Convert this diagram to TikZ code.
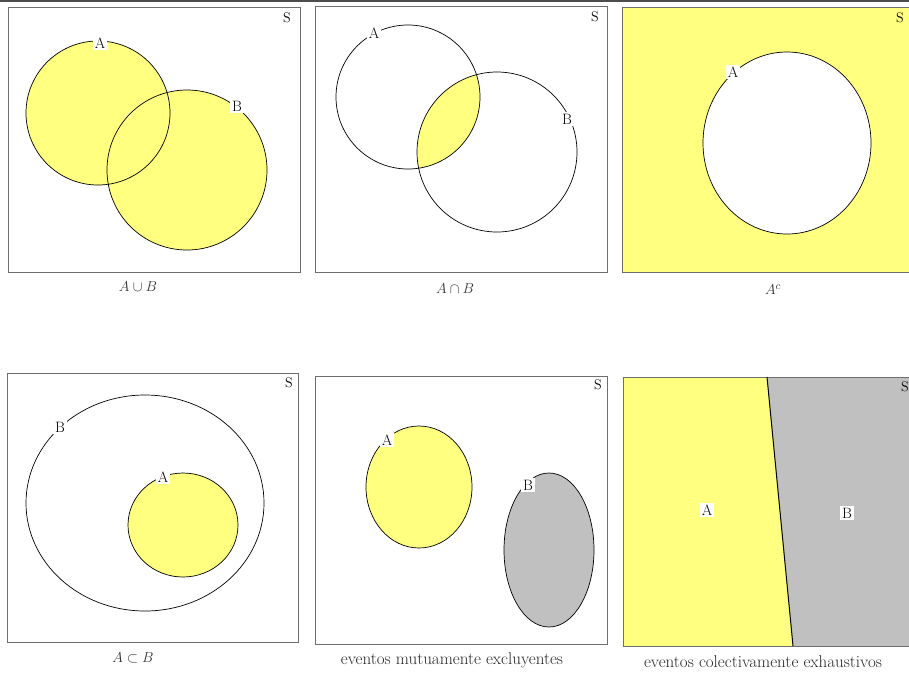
\documentclass[tikz,border=0pt]{standalone}
\usepackage{tikz}
\definecolor{setyel}{HTML}{FFFF80}
\definecolor{setgray}{HTML}{C0C0C0}
\definecolor{frame}{HTML}{6E6E6E}
\tikzset{
  space/.style={draw=frame,line width=1pt},
  venn/.style={draw=black,line width=0.7pt},
  setlbl/.style={fill=white,inner sep=2pt,font=\fontsize{15}{17}\selectfont},
  uni/.style={inner sep=0pt,font=\fontsize{14}{16}\selectfont},
  setcap/.style={inner sep=0pt,text=black!80,font=\fontsize{15}{18}\selectfont},
  wordcap/.style={inner sep=0pt,text=black!85,font=\fontsize{17}{20}\selectfont},
}
\begin{document}
\begin{tikzpicture}[x=1pt,y=-1pt]
  \useasboundingbox (0,0) rectangle (909,672);
  \clip (0,0) rectangle (909,672);
  \draw[black!70,line width=2pt] (0,1) -- (909,1);

  % union
  \draw[space] (8,7) rectangle (300,272);
  \fill[setyel] (98,113) circle[radius=72pt] (187,170) circle[radius=80pt];
  \draw[venn] (98,113) circle[radius=72pt] (187,170) circle[radius=80pt];
  \node[setlbl] (ua) at (100,43) {A};
  \node[setlbl] (ub) at (237,106) {B};
  \node[uni] (us) at (287,18) {S};
  \node[setcap] (uc) at (138,287) {$A\cup B$};

  % intersection
  \draw[space] (315,6) rectangle (607,272);
  \begin{scope}
    \clip (408,97) circle[radius=72pt];
    \fill[setyel] (497,152) circle[radius=80pt];
  \end{scope}
  \draw[venn] (408,97) circle[radius=72pt] (497,152) circle[radius=80pt];
  \node[setlbl] (ia) at (374,33) {A};
  \node[setlbl] (ib) at (567,119) {B};
  \node[uni] (is) at (595,17) {S};
  \node[setcap] (ic) at (455,289) {$A\cap B$};

  % complement
  \fill[setyel] (622,7) rectangle (915,272);
  \draw[space] (622,7) rectangle (915,272);
  \fill[white] (787,143) ellipse[x radius=84pt,y radius=91pt];
  \draw[venn] (787,143) ellipse[x radius=84pt,y radius=91pt];
  \node[setlbl] (ca) at (733,72) {A};
  \node[uni] (cs) at (900,18) {S};
  \node[setcap] (cc) at (773,290) {$A^c$};

  % subset
  \draw[space] (7,373) rectangle (298,642);
  \draw[venn] (145,503) ellipse[x radius=119pt,y radius=108pt];
  \fill[setyel] (183,525) ellipse[x radius=55pt,y radius=52pt];
  \draw[venn] (183,525) ellipse[x radius=55pt,y radius=52pt];
  \node[setlbl] (sa) at (163,477) {A};
  \node[setlbl] (sb) at (60,427) {B};
  \node[uni] (ss) at (289,383) {S};
  \node[setcap] (sc) at (133,658) {$A\subset B$};

  % mutually exclusive
  \draw[space] (315,376) rectangle (607,644);
  \draw[venn,fill=setyel] (419,487) ellipse[x radius=53pt,y radius=61pt];
  \draw[venn,fill=setgray] (549,550) ellipse[x radius=45pt,y radius=77pt];
  \node[setlbl] (ma) at (387,440) {A};
  \node[setlbl] (mb) at (528,485) {B};
  \node[uni] (ms) at (598,385) {S};
  \node[wordcap] (mc) at (452,660) {eventos mutuamente excluyentes};

  % collectively exhaustive
  \fill[setyel] (623,377) -- (767,377) -- (793,646) -- (623,646) -- cycle;
  \fill[setgray] (767,377) -- (915,377) -- (915,646) -- (793,646) -- cycle;
  \draw[space] (623,377) rectangle (915,646);
  \draw[black,line width=1pt] (767,377) -- (793,646);
  \node[setlbl] (ea) at (707,510) {A};
  \node[setlbl] (eb) at (847,513) {B};
  \node[uni] (es) at (905,387) {S};
  \node[wordcap] (ec) at (763,662) {eventos colectivamente exhaustivos};
\end{tikzpicture}
\end{document}
